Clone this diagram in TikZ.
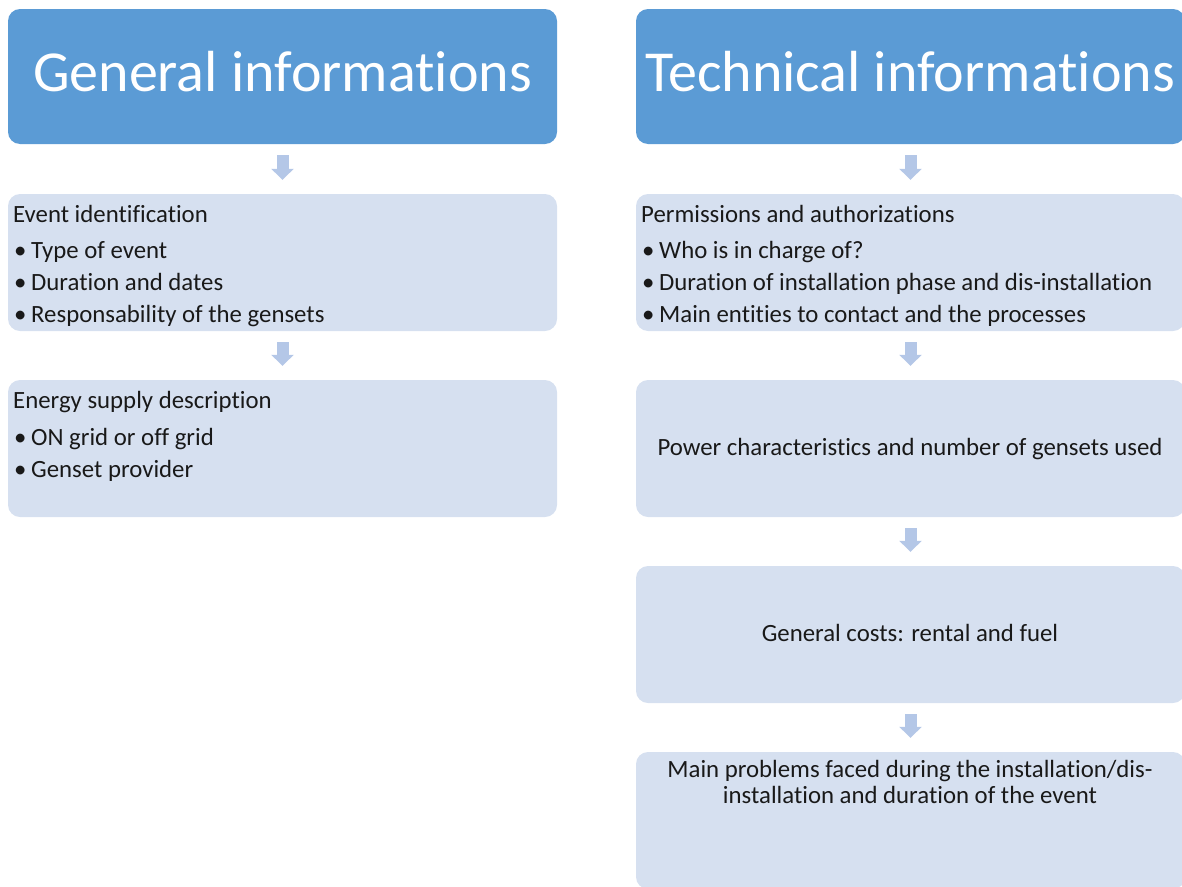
\documentclass[tikz,border=0pt]{standalone}
\usepackage{fontspec}
\setmainfont{Carlito}[Ligatures=NoCommon]
\usetikzlibrary{arrows.meta,positioning}
\definecolor{headblue}{HTML}{5B9BD5}
\definecolor{boxblue}{HTML}{D6E0F0}
\definecolor{arrowblue}{HTML}{B4C7E7}
\tikzset{
  head/.style={fill=headblue, rounded corners=12pt, minimum width=549pt, minimum height=135pt},
  headtxt/.style={text=white, inner sep=0pt, font=\fontsize{58}{64}\selectfont},
  item/.style={fill=boxblue, rounded corners=12pt, minimum width=549pt, minimum height=137pt},
  txt/.style={inner sep=0pt, text=black!90, font=\fontsize{24.8}{28}\selectfont},
  flow/.style={draw=arrowblue, line width=12pt, -{Triangle[width=22pt,length=11pt]}, shorten <=11pt, shorten >=14pt}
}
\newcommand{\bul}{\makebox[17pt][l]{\textbullet}}
\begin{document}
\begin{tikzpicture}[x=1pt,y=-1pt]
\useasboundingbox (0,0) rectangle (1182,886);
\clip (0,0) rectangle (1182,886);
% general column
\node[head] (GH) at (282.5,76.5) {};
\node[item] (G1) at (282.5,262.5) {};
\node[item] (G2) at (282.5,448.5) {};
% technical column
\node[head] (TH) at (910.5,76.5) {};
\node[item] (T1) at (910.5,262.5) {};
\node[item] (T2) at (910.5,448.5) {};
\node[item] (T3) at (910.5,634.5) {};
\node[item] (T4) at (910.5,820.5) {};
% titles
\node[headtxt, anchor=base] (GHt) at (282.5,91) {General informations};
\node[headtxt, anchor=base] (THt) at (910,91) {Technical informations};
% general texts
\node[txt, anchor=base west] (G1h) at (13,222) {Event identification};
\foreach \t [count=\i] in {Type of event, Duration and dates, Responsability of the gensets}
  \node[txt, anchor=base west] at (14,226+32*\i) {\bul\t};
\node[txt, anchor=base west] (G2h) at (13,408) {Energy supply description};
\foreach \t [count=\i] in {ON grid or off grid, Genset provider}
  \node[txt, anchor=base west] at (14,413+32*\i) {\bul\t};
% technical texts
\node[txt, anchor=base west] (T1h) at (641,222) {Permissions and authorizations};
\foreach \t [count=\i] in {Who is in charge of?, Duration of installation phase and dis-installation, Main entities to contact and the processes}
  \node[txt, anchor=base west] at (642,226+32*\i) {\bul\t};
\node[txt, anchor=base] (T2t) at (910,455) {Power characteristics and number of gensets used};
\node[txt, anchor=base] (T3t) at (910,641) {General costs: rental and fuel};
\node[txt, anchor=base] (T4a) at (910,777) {Main problems faced during the installation/dis-};
\node[txt, anchor=base] (T4b) at (910,803) {installation and duration of the event};
% arrows
\draw[flow] (GH) -- (G1);
\draw[flow] (G1) -- (G2);
\draw[flow] (TH) -- (T1);
\draw[flow] (T1) -- (T2);
\draw[flow] (T2) -- (T3);
\draw[flow] (T3) -- (T4);
\end{tikzpicture}
\end{document}
